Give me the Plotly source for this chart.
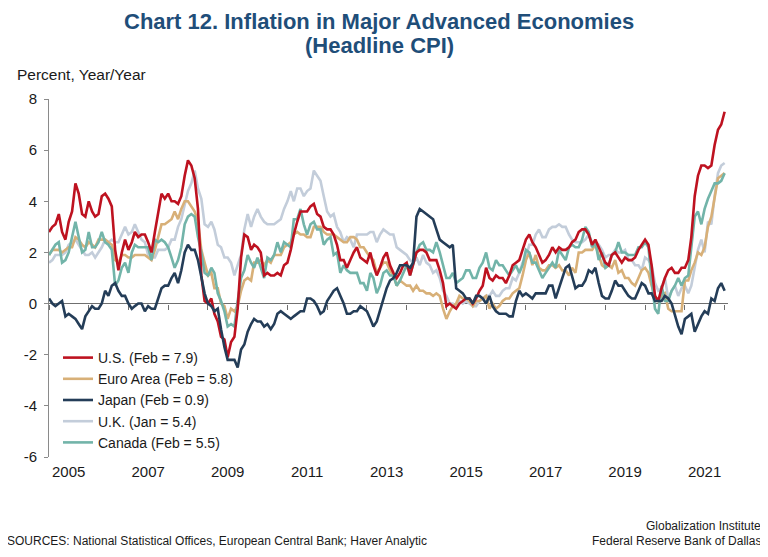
import pandas as pd
import plotly.graph_objects as go

# ---------------- data (monthly, Jan 2005 .. Jan 2022) ----------------
us = [2.8, 3.0, 3.1, 3.5, 2.8, 2.5, 3.2, 3.6, 4.7, 4.3, 3.5, 3.4,
      4.0, 3.6, 3.4, 3.5, 4.2, 4.3, 4.1, 3.8, 2.1, 1.3, 2.0, 2.5,
      2.1, 2.4, 2.8, 2.6, 2.7, 2.7, 2.4, 2.0, 2.8, 3.5, 4.3, 4.1,
      4.3, 4.0, 4.0, 3.9, 4.2, 5.0, 5.6, 5.4, 4.9, 3.7, 1.1, 0.1,
      0.0, 0.2, -0.4, -0.7, -1.3, -1.4, -2.1, -1.5, -1.3, -0.2, 1.8, 2.7,
      2.6, 2.1, 2.3, 2.2, 2.0, 1.1, 1.2, 1.1, 1.1, 1.2, 1.1, 1.5,
      1.6, 2.1, 2.7, 3.2, 3.6, 3.6, 3.6, 3.8, 3.9, 3.5, 3.4, 3.0,
      2.9, 2.9, 2.7, 2.3, 1.7, 1.7, 1.4, 1.7, 2.0, 2.2, 1.8, 1.7,
      1.6, 2.0, 1.5, 1.1, 1.4, 1.8, 2.0, 1.5, 1.2, 1.0, 1.2, 1.5,
      1.6, 1.1, 1.5, 2.0, 2.1, 2.1, 2.0, 1.7, 1.7, 1.7, 1.3, 0.8,
      -0.1, 0.0, -0.1, -0.2, 0.0, 0.1, 0.2, 0.2, 0.0, 0.2, 0.5, 0.7,
      1.4, 1.0, 0.9, 1.1, 1.0, 1.0, 0.8, 1.1, 1.5, 1.6, 1.7, 2.1,
      2.5, 2.7, 2.4, 2.2, 1.9, 1.6, 1.7, 1.9, 2.2, 2.0, 2.2, 2.1,
      2.1, 2.2, 2.4, 2.5, 2.8, 2.9, 2.9, 2.7, 2.3, 2.5, 2.2, 1.9,
      1.6, 1.5, 1.9, 2.0, 1.8, 1.6, 1.8, 1.7, 1.7, 1.8, 2.1, 2.3,
      2.5, 2.3, 1.5, 0.3, 0.1, 0.6, 1.0, 1.3, 1.4, 1.2, 1.2, 1.4,
      1.4, 1.7, 2.6, 4.2, 5.0, 5.4, 5.4, 5.3, 5.4, 6.2, 6.8, 7.0,
      7.5]

euro = [1.9, 2.1, 2.1, 2.1, 2.0, 2.1, 2.2, 2.2, 2.6, 2.5, 2.3, 2.2,
        2.4, 2.3, 2.2, 2.5, 2.5, 2.5, 2.4, 2.3, 1.7, 1.6, 1.9, 1.9,
        1.8, 1.8, 1.9, 1.9, 1.9, 1.9, 1.8, 1.7, 2.1, 2.6, 3.1, 3.1,
        3.2, 3.3, 3.6, 3.3, 3.7, 4.0, 4.0, 3.8, 3.6, 3.2, 2.1, 1.6,
        1.1, 1.2, 0.6, 0.6, 0.0, -0.1, -0.6, -0.2, -0.3, -0.1, 0.5, 0.9,
        1.0, 0.9, 1.6, 1.6, 1.7, 1.5, 1.7, 1.6, 1.9, 1.9, 1.9, 2.2,
        2.3, 2.4, 2.7, 2.8, 2.7, 2.7, 2.6, 2.6, 3.0, 3.0, 3.0, 2.8,
        2.7, 2.7, 2.7, 2.6, 2.5, 2.4, 2.4, 2.6, 2.6, 2.5, 2.2, 2.2,
        2.0, 1.8, 1.7, 1.2, 1.4, 1.6, 1.6, 1.3, 1.1, 0.7, 0.9, 0.8,
        0.7, 0.7, 0.5, 0.7, 0.5, 0.5, 0.4, 0.4, 0.3, 0.4, 0.3, -0.2,
        -0.6, -0.3, -0.1, 0.0, 0.3, 0.2, 0.2, 0.1, -0.1, 0.1, 0.1, 0.2,
        0.3, -0.2, 0.0, -0.2, -0.1, 0.1, 0.2, 0.2, 0.4, 0.5, 0.6, 1.1,
        1.7, 2.0, 1.5, 1.9, 1.4, 1.3, 1.3, 1.5, 1.5, 1.4, 1.5, 1.3,
        1.3, 1.1, 1.4, 1.2, 2.0, 2.0, 2.1, 2.1, 2.1, 2.3, 1.9, 1.5,
        1.4, 1.5, 1.4, 1.7, 1.2, 1.3, 1.0, 1.0, 0.8, 0.7, 1.0, 1.3,
        1.4, 1.2, 0.7, 0.3, 0.1, 0.3, 0.4, -0.2, -0.3, -0.3, -0.3, -0.3,
        0.9, 0.9, 1.3, 1.6, 2.0, 1.9, 2.2, 3.0, 3.4, 4.1, 4.9, 5.0,
        5.1]

japan = [0.2, 0.0, -0.1, 0.0, 0.1, -0.5, -0.4, -0.5, -0.6, -0.8, -1.0, -0.5,
         -0.3, -0.1, -0.2, -0.2, 0.0, 0.5, 0.3, 0.7, 0.8, 0.5, 0.3, 0.3,
         0.0, -0.2, -0.1, 0.0, 0.0, -0.3, -0.1, -0.2, -0.2, 0.2, 0.6, 0.7,
         0.7, 1.0, 1.2, 0.8, 1.3, 2.0, 2.3, 2.1, 2.1, 1.7, 1.0, 0.4,
         0.0, -0.1, -0.3, -0.2, -1.0, -1.7, -2.2, -2.2, -2.2, -2.5, -1.8, -1.6,
         -1.1, -0.8, -0.6, -0.7, -0.7, -0.9, -0.8, -1.0, -0.8, -0.4, -0.3, -0.4,
         -0.5, -0.6, -0.5, -0.4, -0.3, -0.3, 0.2, 0.2, 0.1, -0.1, -0.4, -0.3,
         0.1, 0.3, 0.5, 0.6, 0.3, 0.0, -0.4, -0.4, -0.3, -0.3, -0.1, -0.2,
         -0.3, -0.6, -0.9, -0.7, -0.3, 0.2, 0.6, 0.9, 1.0, 1.2, 1.5, 1.5,
         1.5, 1.4, 1.6, 3.4, 3.7, 3.6, 3.5, 3.4, 3.3, 2.9, 2.5, 2.4,
         2.3, 2.2, 2.3, 0.6, 0.5, 0.4, 0.2, 0.2, 0.0, 0.3, 0.3, 0.2,
         0.0, 0.3, -0.1, -0.3, -0.4, -0.4, -0.4, -0.5, -0.5, 0.1, 0.5, 0.3,
         0.4, 0.3, 0.2, 0.4, 0.4, 0.4, 0.4, 0.7, 0.7, 0.2, 0.6, 1.0,
         1.4, 1.5, 1.1, 0.6, 0.7, 0.7, 0.9, 1.3, 1.2, 1.4, 0.8, 0.3,
         0.2, 0.2, 0.5, 0.9, 0.7, 0.7, 0.5, 0.3, 0.2, 0.2, 0.5, 0.8,
         0.7, 0.4, 0.4, 0.1, 0.1, 0.1, 0.3, 0.2, 0.0, -0.4, -0.9, -1.2,
         -0.6, -0.5, -0.4, -1.1, -0.8, -0.5, -0.3, -0.4, 0.2, 0.1, 0.6, 0.8,
         0.5]

uk = [1.6, 1.7, 1.9, 1.9, 1.9, 2.0, 2.3, 2.4, 2.5, 2.3, 2.1, 1.9,
      1.9, 2.0, 1.8, 2.0, 2.2, 2.5, 2.4, 2.5, 2.4, 2.4, 2.7, 3.0,
      2.7, 2.8, 3.1, 2.8, 2.5, 2.4, 1.9, 1.8, 1.8, 2.1, 2.1, 2.1,
      2.2, 2.5, 2.5, 3.0, 3.3, 3.8, 4.4, 4.7, 5.2, 4.5, 4.1, 3.1,
      3.0, 3.2, 2.9, 2.3, 2.2, 1.8, 1.8, 1.6, 1.1, 1.5, 1.9, 2.9,
      3.5, 3.0, 3.4, 3.7, 3.4, 3.2, 3.1, 3.1, 3.1, 3.2, 3.3, 3.7,
      4.0, 4.4, 4.0, 4.5, 4.5, 4.2, 4.4, 4.5, 5.2, 5.0, 4.8, 4.2,
      3.6, 3.4, 3.5, 3.0, 2.8, 2.4, 2.6, 2.5, 2.2, 2.7, 2.7, 2.7,
      2.7, 2.8, 2.8, 2.4, 2.7, 2.9, 2.8, 2.7, 2.7, 2.2, 2.1, 2.0,
      1.9, 1.7, 1.6, 1.8, 1.5, 1.9, 1.6, 1.5, 1.2, 1.3, 1.0, 0.5,
      0.3, 0.0, 0.0, -0.1, 0.1, 0.0, 0.1, 0.0, -0.1, -0.1, 0.1, 0.2,
      0.3, 0.3, 0.5, 0.3, 0.3, 0.5, 0.6, 0.6, 1.0, 0.9, 1.2, 1.6,
      1.8, 2.3, 2.3, 2.7, 2.9, 2.6, 2.6, 2.9, 3.0, 3.0, 3.1, 3.0,
      3.0, 2.7, 2.5, 2.4, 2.4, 2.4, 2.5, 2.7, 2.4, 2.4, 2.3, 2.1,
      1.8, 1.9, 1.9, 2.1, 2.0, 2.0, 2.1, 1.7, 1.7, 1.5, 1.5, 1.3,
      1.8, 1.7, 1.5, 0.8, 0.5, 0.6, 1.0, 0.2, 0.5, 0.7, 0.3, 0.6,
      0.7, 0.4, 0.7, 1.5, 2.1, 2.5, 2.0, 3.2, 3.1, 4.2, 5.1, 5.4,
      5.5]

canada = [1.9, 2.1, 2.3, 2.4, 1.6, 1.7, 2.0, 2.6, 3.2, 2.6, 2.0, 2.1,
          2.8, 2.2, 2.2, 2.4, 2.8, 2.4, 2.3, 2.1, 0.7, 0.9, 1.4, 1.6,
          1.2, 2.0, 2.3, 2.2, 2.2, 2.2, 2.2, 1.7, 2.5, 2.4, 2.5, 2.4,
          2.2, 1.8, 1.4, 1.7, 2.2, 3.1, 3.4, 3.5, 3.4, 2.6, 2.0, 1.2,
          1.1, 1.4, 1.2, 0.4, 0.1, -0.3, -0.9, -0.8, -0.9, 0.1, 1.0, 1.3,
          1.9, 1.6, 1.4, 1.8, 1.4, 1.0, 1.8, 1.7, 1.9, 2.4, 2.0, 2.4,
          2.3, 2.2, 3.3, 3.3, 3.7, 3.1, 2.7, 3.1, 3.2, 2.9, 2.9, 2.3,
          2.5, 2.6, 1.9, 2.0, 1.2, 1.5, 1.3, 1.2, 1.2, 1.2, 0.8, 0.8,
          0.5, 1.2, 1.0, 0.4, 0.7, 1.2, 1.3, 1.1, 1.1, 0.7, 0.9, 1.2,
          1.5, 1.1, 1.5, 2.0, 2.3, 2.4, 2.1, 2.1, 2.0, 2.4, 2.0, 1.5,
          1.0, 1.0, 1.2, 0.8, 0.9, 1.0, 1.3, 1.3, 1.0, 1.0, 1.4, 1.6,
          2.0, 1.4, 1.3, 1.7, 1.5, 1.5, 1.3, 1.1, 1.3, 1.5, 1.2, 1.5,
          2.1, 2.0, 1.6, 1.6, 1.3, 1.0, 1.2, 1.4, 1.6, 1.4, 2.1, 1.9,
          1.7, 2.2, 2.3, 2.2, 2.2, 2.5, 3.0, 2.8, 2.2, 2.4, 1.7, 2.0,
          1.4, 1.5, 1.9, 2.0, 2.4, 2.0, 2.0, 1.9, 1.9, 1.9, 2.2, 2.2,
          2.4, 2.2, 0.9, -0.2, -0.4, 0.7, 0.1, 0.1, 0.5, 0.7, 1.0, 0.7,
          1.0, 1.1, 2.2, 3.4, 3.6, 3.1, 3.7, 4.1, 4.4, 4.7, 4.7, 4.8,
          5.1]

series_names = ["U.S. (Feb = 7.9)", "Euro Area (Feb = 5.8)", "Japan (Feb = 0.9)",
                "U.K. (Jan = 5.4)", "Canada (Feb = 5.5)"]
year_labels = ["2005", "2007", "2009", "2011", "2013", "2015", "2017", "2019", "2021"]
y_ticks = [-6, -4, -2, 0, 2, 4, 6, 8]
y_tick_text = ["-6", "-4", "-2", "0", "2", "4", "6", "8"]

dates = pd.date_range("2005-01-01", periods=len(us), freq="MS")

# ---------------- layout helpers ----------------
# The page body has an 8px margin, so positions from the 768x557 reference are
# shifted by OFF when placed inside the figure.
OFF = 8
W, H = 768 - OFF, 557 - OFF
L, R, T, B = 49 - OFF, 728 - OFF, 99 - OFF, 457 - OFF


def px(x):
    return (x - OFF - L) / (R - L)


def py(y):
    return (B - (y - OFF)) / (B - T)


FONT = "Liberation Sans, Arial, sans-serif"
TXT = "#1a1a1a"
AX = "#8a8a8a"

colors = {
    "us": "#BE1220",
    "euro": "#D8B078",
    "japan": "#243D58",
    "uk": "#C3CDDA",
    "canada": "#72B4A9",
}

fig = go.Figure()
# drawing order (bottom -> top); legend order set by legendrank
draw = [
    ("uk", uk, series_names[3], 4, "x"),
    ("euro", euro, series_names[1], 2, "x"),
    ("canada", canada, series_names[4], 5, "x"),
    ("us", us, series_names[0], 1, "x"),
    ("japan", japan, series_names[2], 3, "x2"),
]
for key, vals, name, rank, xa in draw:
    fig.add_trace(go.Scatter(
        x=dates, y=vals, mode="lines", name=name, legendrank=rank, xaxis=xa,
        line=dict(color=colors[key], width=2.6), hoverinfo="skip",
    ))

xr = ["2005-01-01", "2022-02-01"]
fig.update_layout(
    width=W, height=H, autosize=False,
    margin=dict(l=L, r=W - R, t=T, b=H - B, pad=0),
    paper_bgcolor="white", plot_bgcolor="white",
    font=dict(family=FONT, size=15, color=TXT),
    showlegend=True,
    legend=dict(
        x=px(58), y=py(342), xanchor="left", yanchor="top",
        bgcolor="rgba(0,0,0,0)", font=dict(size=14, color=TXT),
        itemwidth=30, tracegroupgap=0,
    ),
    xaxis=dict(
        type="date", range=xr, showgrid=False, zeroline=False, showline=False,
        ticks="", tickmode="array",
        tickvals=[pd.Timestamp(f"{y}-07-01") for y in year_labels],
        ticktext=year_labels, tickfont=dict(size=15, color=TXT),
        ticklabelstandoff=4,
    ),
    xaxis2=dict(
        type="date", range=xr, overlaying="x", anchor="free", position=6 / 14,
        side="bottom", showgrid=False, zeroline=False, showline=False,
        ticks="outside", ticklen=5, tickwidth=1, tickcolor="#6f6f6f",
        tick0="2005-01-01", dtick="M12", showticklabels=False,
        layer="below traces",
    ),
    yaxis=dict(
        range=[-6, 8], tickmode="array", tickvals=y_ticks, ticktext=y_tick_text,
        showgrid=False, zeroline=True, zerolinecolor="#6f6f6f", zerolinewidth=1,
        showline=True, linecolor=AX, linewidth=1,
        ticks="outside", ticklen=4, tickcolor=AX,
        ticklabelstandoff=4,
        tickfont=dict(size=15, color=TXT),
    ),
)

ann = [
    dict(text="<b>Chart 12. Inflation in Major Advanced Economies</b>",
         x=px(379), y=py(21), font=dict(size=22, color="#1F4E79")),
    dict(text="<b>(Headline CPI)</b>",
         x=px(379), y=py(45), font=dict(size=22, color="#1F4E79")),
    dict(text="Percent, Year/Year", x=px(15), y=py(74), xanchor="left",
         font=dict(size=15.5, color=TXT)),
    dict(text="SOURCES: National Statistical Offices, European Central Bank; Haver Analytic",
         x=px(5), y=py(541), xanchor="left", font=dict(size=12, color=TXT)),
    dict(text="Globalization Institute", x=px(763), y=py(526), xanchor="right",
         font=dict(size=12, color=TXT)),
    dict(text="Federal Reserve Bank of Dallas", x=px(763), y=py(541), xanchor="right",
         font=dict(size=12, color=TXT)),
]
for a in ann:
    a.setdefault("xanchor", "center")
    fig.add_annotation(xref="paper", yref="paper", showarrow=False,
                       yanchor="middle", **a)

fig.write_html("out.html")
